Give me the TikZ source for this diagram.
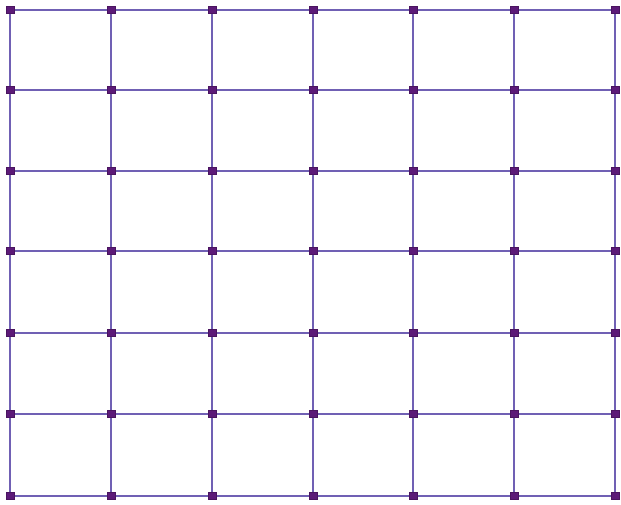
\documentclass[tikz,border=0pt]{standalone}
\definecolor{edgecol}{RGB}{112,96,180}
\definecolor{nodecol}{RGB}{92,26,120}
\tikzset{
  vert/.style={rectangle, fill=nodecol, draw=nodecol!80!black, line width=0.3pt, minimum width=8pt, minimum height=7pt, inner sep=0pt},
  edge/.style={draw=edgecol, line width=1.8pt}
}
\begin{document}
\begin{tikzpicture}[x=1pt,y=-1pt]
\useasboundingbox[fill=white] (0,0) rectangle (621,504);
\foreach \i/\x in {0/10,1/111,2/212,3/313,4/413,5/514,6/615}{
  \foreach \j/\y in {0/10,1/90,2/171,3/251,4/333,5/414,6/496}{
    \coordinate (c-\i-\j) at (\x,\y);
  }
}
\foreach \i in {0,...,6}{
  \foreach \j [evaluate=\j as \k using int(\j+1)] in {0,...,5}{
    \draw[edge] (c-\i-\j) -- (c-\i-\k);
    \draw[edge] (c-\j-\i) -- (c-\k-\i);
  }
}
\foreach \i in {0,...,6}{
  \foreach \j in {0,...,6}{
    \node[vert] (n-\i-\j) at (c-\i-\j) {};
  }
}
\end{tikzpicture}
\end{document}
